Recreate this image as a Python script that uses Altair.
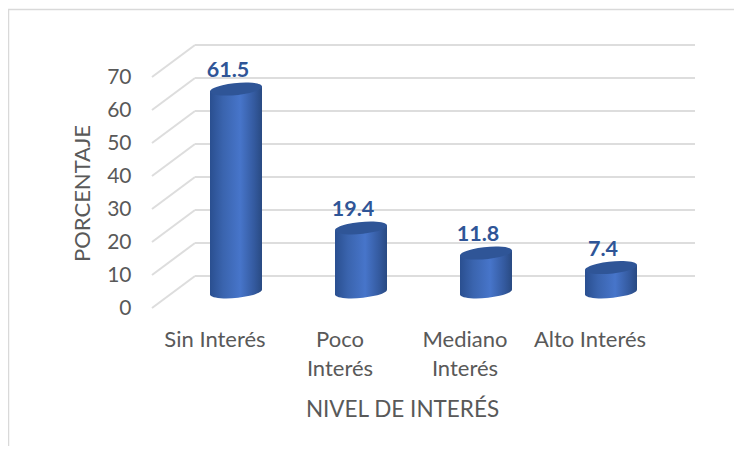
import json
import altair as alt
import pandas as pd

categories = ["Sin Interés", "Poco Interés", "Mediano Interés", "Alto Interés"]
wrapped = [["Sin Interés"], ["Poco", "Interés"], ["Mediano", "Interés"], ["Alto Interés"]]
values = [61.5, 19.4, 11.8, 7.4]
ticks = [0, 10, 20, 30, 40, 50, 60, 70]

FONT = "Lato"
GREY = "#595959"
DEPTH_X, DEPTH_Y = 0.344, 9.7   # oblique depth of the 3-D floor, in data units
HALF = 0.208                    # half a cylinder's width
TILT = 0.76

xs = alt.Scale(domain=[-0.5, 3.5], range=[144, 644])
ys = alt.Scale(domain=[0, 70], range=[300, 69])
X = alt.X("x:Q", scale=xs)
Y = alt.Y("y:Q", scale=ys)

grad = {
    "gradient": "linear", "x1": 0, "x2": 1, "y1": 0, "y2": 0,
    "stops": [
        {"offset": 0, "color": "#2A4F90"},
        {"offset": 0.25, "color": "#3A64AE"},
        {"offset": 0.58, "color": "#4775CA"},
        {"offset": 0.85, "color": "#345A9F"},
        {"offset": 1, "color": "#294A82"},
    ],
}
ELLIPSE = "M-1,0.1 A1.005,0.23 -5.7 1 1 1,-0.1 A1.005,0.23 -5.7 1 1 -1,0.1 Z"
CYL_SIZE = 52 ** 2

grid = pd.DataFrame({
    "y": ticks,
    "yb": [t + DEPTH_Y for t in ticks],
    "xl": [-0.5] * len(ticks),
    "xb": [-0.5 + DEPTH_X] * len(ticks),
    "xr": [3.5 + DEPTH_X] * len(ticks),
})
back = alt.Chart(grid).mark_rule(color="#DDDDDD", strokeWidth=2).encode(
    x=alt.X("xb:Q", scale=xs), x2="xr:Q",
    y=alt.Y("yb:Q", scale=ys),
)
slant = alt.Chart(grid).mark_rule(color="#DDDDDD", strokeWidth=2).encode(
    x=alt.X("xl:Q", scale=xs), x2="xb:Q",
    y=alt.Y("y:Q", scale=ys), y2="yb:Q",
)

body_rows = []
for i, v in enumerate(values):
    cx = i + DEPTH_X / 2
    cy = DEPTH_Y / 2
    body_rows.append({"c": i, "x": cx - HALF, "y": v + cy - TILT, "y0": cy - TILT})
    body_rows.append({"c": i, "x": cx + HALF, "y": v + cy + TILT, "y0": cy + TILT})
body_df = pd.DataFrame(body_rows)
caps = pd.DataFrame({
    "x": [i + DEPTH_X / 2 for i in range(len(values))],
    "y": [v + DEPTH_Y / 2 for v in values],
    "y0": [DEPTH_Y / 2] * len(values),
    "label": [f"{v:.1f}" for v in values],
})

base_cap = alt.Chart(caps).mark_point(
    shape=ELLIPSE, size=CYL_SIZE, filled=True, fill=grad, opacity=1, strokeWidth=0
).encode(x=X, y=alt.Y("y0:Q", scale=ys))
body = alt.Chart(body_df).mark_area(fill=grad, opacity=1).encode(
    x=X, y=Y, y2="y0:Q", detail="c:N"
)
top_cap = alt.Chart(caps).mark_point(
    shape=ELLIPSE, size=CYL_SIZE, filled=True, fill="#2F5597", opacity=1, strokeWidth=0
).encode(x=X, y=Y)
labels = alt.Chart(caps).mark_text(
    font=FONT, fontSize=21.5, fontWeight="bold", color="#2F5597",
    baseline="alphabetic", dx=-8, dy=-12,
).encode(x=X, y=Y, text="label:N")

axes_df = pd.DataFrame({"x": [0], "y": [0]})
axes = alt.Chart(axes_df).mark_point(opacity=0).encode(
    x=alt.X("x:Q", scale=xs, axis=alt.Axis(
        title="NIVEL DE INTERÉS", values=list(range(len(categories))),
        labelExpr=f"{json.dumps(wrapped, ensure_ascii=False)}[datum.value]",
        orient="bottom", offset=-146, domain=False, ticks=False, grid=False,
        labelPadding=29, labelFont=FONT, labelFontSize=22, labelColor=GREY,
        labelLineHeight=29, labelOverlap=False, labelBound=False, labelFlush=False,
        titleFont=FONT, titleFontSize=22.5, titleFontWeight="normal", titleColor=GREY,
        titleX=394, titleY=109, titleBaseline="middle", titleAlign="center", titleAnchor="middle",
    )),
    y=alt.Y("y:Q", scale=ys, axis=alt.Axis(
        title="PORCENTAJE", values=ticks, orient="left", offset=-123,
        domain=False, ticks=False, grid=False, labelPadding=0,
        labelFont=FONT, labelFontSize=21, labelColor=GREY,
        titleFont=FONT, titleFontSize=22, titleFontWeight="normal", titleColor=GREY,
        titleX=-49, titleY=185, titleAngle=270, titleBaseline="middle", titleAlign="center",
    )),
)

frame_top = alt.Chart(axes_df).mark_rule(color="#D9D9D9", strokeWidth=1.5).encode(
    x=alt.value(0), x2=alt.value(726), y=alt.value(1.5)
)
frame_left = alt.Chart(axes_df).mark_rule(color="#D9D9D9", strokeWidth=1.5).encode(
    x=alt.value(0.5), y=alt.value(1.5), y2=alt.value(438)
)

chart = alt.layer(
    axes, frame_top, frame_left, back, slant, base_cap, body, top_cap, labels
).properties(
    width=726, height=438, padding=0,
    autosize=alt.AutoSizeParams(type="none"),
).configure(background="white").configure_view(stroke=None)

chart.save("out.html", embed_options={"renderer": "svg", "actions": False})
